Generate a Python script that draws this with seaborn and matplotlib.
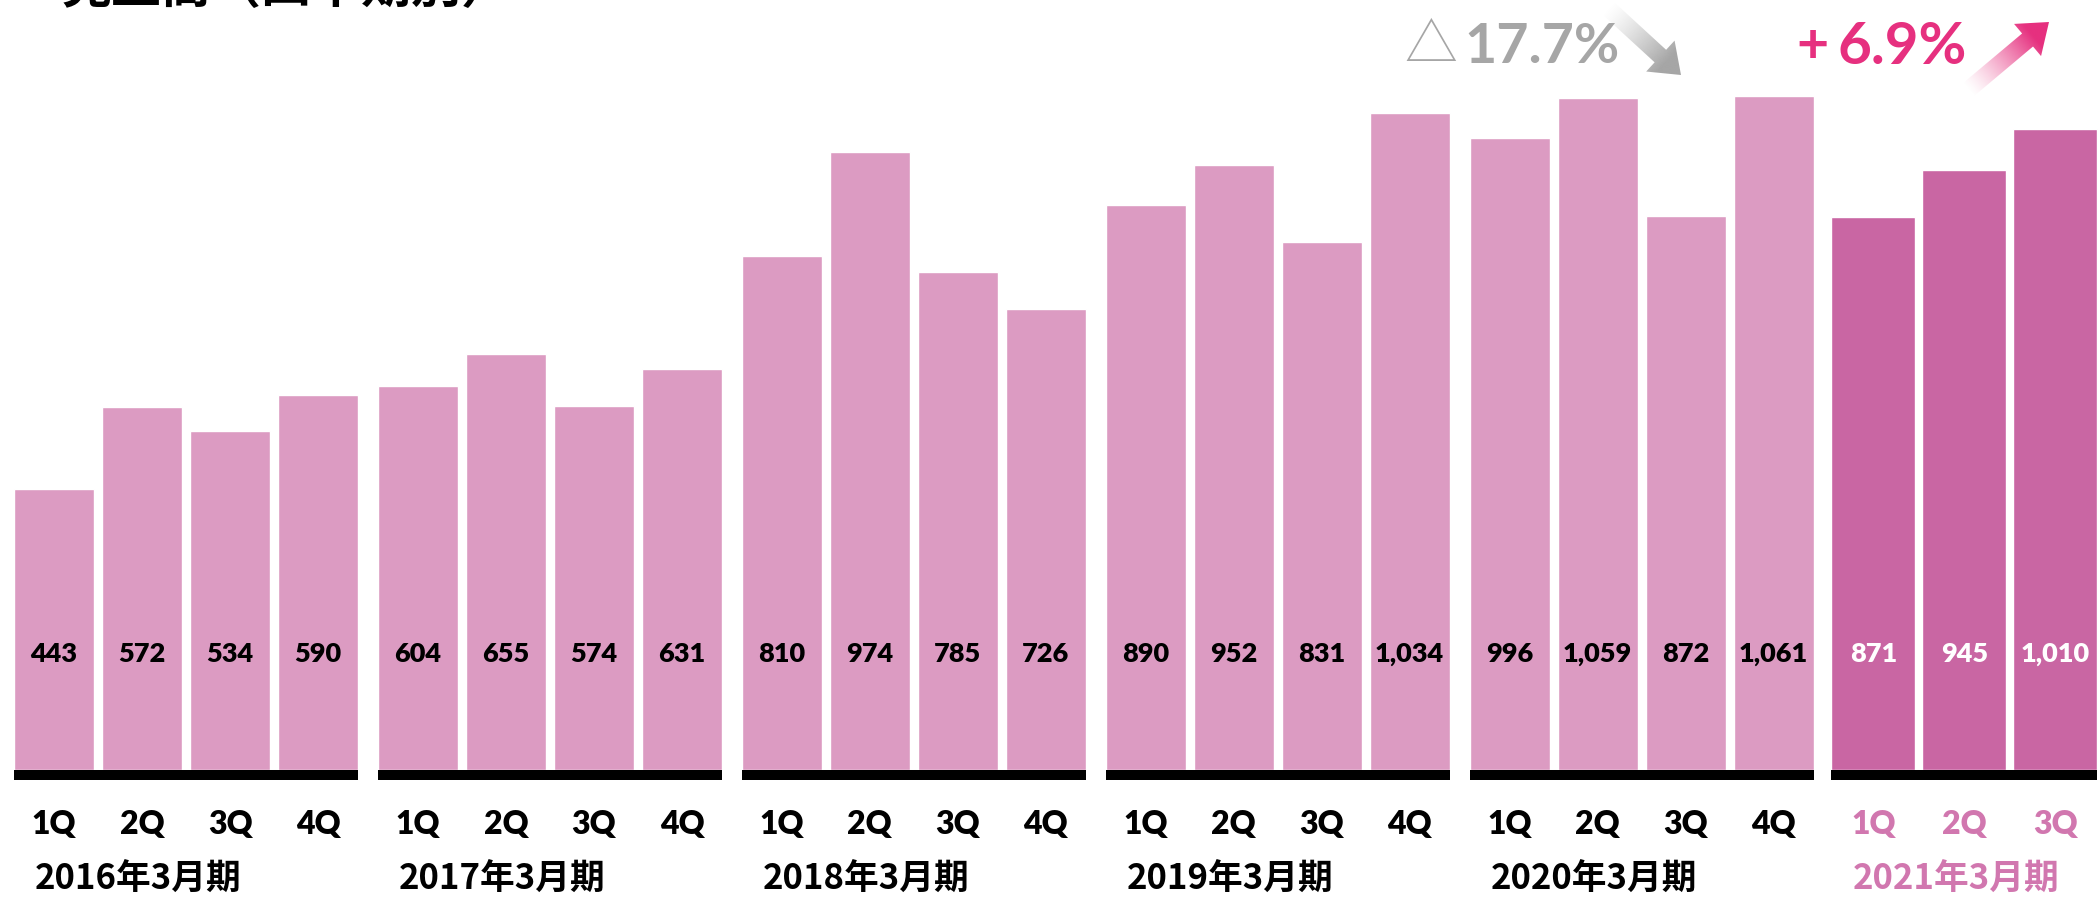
import numpy as np
import pandas as pd
import matplotlib
matplotlib.use("Agg")
import matplotlib.pyplot as plt
import seaborn as sns
from matplotlib.patches import FancyArrow, Rectangle
from matplotlib.colors import to_rgb

# ---------------- data ----------------
fiscal_years = ["2016年3月期", "2017年3月期", "2018年3月期",
                "2019年3月期", "2020年3月期", "2021年3月期"]
quarters = ["1Q", "2Q", "3Q", "4Q"]
sales_fy2016 = [443, 572, 534, 590]
sales_fy2017 = [604, 655, 574, 631]
sales_fy2018 = [810, 974, 785, 726]
sales_fy2019 = [890, 952, 831, 1034]
sales_fy2020 = [996, 1059, 872, 1061]
sales_fy2021 = [871, 945, 1010]
title_text = "売上高（四半期別）"
change_prev_sign = "△"
change_prev_value = "17.7%"
change_curr_sign = "+"
change_curr_value = "6.9%"

# ---------------- style ----------------
PAST = "#DC9BC2"
CURR = "#C966A3"
CURR_TEXT = "#D177AF"
GRAY = "#A6A6A6"
PINK = "#E6307F"

sns.set_theme(style="white")
plt.rcParams["font.family"] = ["Lato", "Noto Sans CJK JP", "DejaVu Sans"]

GROUP_PITCH = 4.135
CURR_PITCH = 1.034
PAST_WIDTH = 0.91
CURR_WIDTH = 0.955

all_sales = [sales_fy2016, sales_fy2017, sales_fy2018, sales_fy2019,
             sales_fy2020, sales_fy2021]
rows = []
for g, (fy, vals) in enumerate(zip(fiscal_years, all_sales)):
    current = (g == len(fiscal_years) - 1)
    for q, v in enumerate(vals):
        pos = g * GROUP_PITCH + q * (CURR_PITCH if current else 1.0)
        rows.append(dict(fy=fy, quarter=quarters[q], value=v, pos=pos,
                         current=current, group=g))
df = pd.DataFrame(rows)
df_past = df[~df.current]
df_curr = df[df.current]

fig = plt.figure(figsize=(20.98, 8.98), dpi=100)
ax = fig.add_axes([0, 0, 1, 1])

sns.barplot(data=df_past, x="pos", y="value", native_scale=True,
            width=PAST_WIDTH, color=PAST, saturation=1, errorbar=None,
            ax=ax, zorder=2)
sns.barplot(data=df_curr, x="pos", y="value", native_scale=True,
            width=CURR_WIDTH / CURR_PITCH, color=CURR, saturation=1,
            errorbar=None, ax=ax, zorder=2)

ax.set_xlim(-0.614, 23.227)
ax.set_ylim(-201.6, 1212.6)
ax.axis("off")

VAL_Y = 183
Q_Y = -86
FY_Y = -173
for g, fy in enumerate(fiscal_years):
    sub = df[df.group == g]
    current = bool(sub.current.iloc[0])
    w = CURR_WIDTH if current else PAST_WIDTH
    left = sub.pos.min() - w / 2
    right = sub.pos.max() + w / 2
    ax.add_patch(Rectangle((left, -16), right - left, 16, color="black",
                           lw=0, zorder=3))
    for _, r in sub.iterrows():
        ax.text(r.pos, VAL_Y, f"{r.value:,}", ha="center", va="center",
                fontsize=19.5, fontweight="heavy",
                color="white" if current else "black", zorder=4)
        ax.text(r.pos, Q_Y, r.quarter, ha="center", va="center",
                fontsize=23, fontweight="heavy",
                color=CURR_TEXT if current else "black")
    ax.text(left + 0.24, FY_Y, fy, ha="left", va="center", fontsize=25,
            fontweight="bold", family=["Noto Sans CJK JP"],
            color=CURR_TEXT if current else "black")

# title (cut at the top edge, as in the reference)
fig.text(62 / 2098, 1 - 3 / 898, title_text, ha="left", va="baseline",
         fontsize=36, fontweight="bold", family=["Noto Sans CJK JP"],
         color="black")

# overlay in pixel coords for annotations
ov = fig.add_axes([0, 0, 1, 1], zorder=5)
ov.set_xlim(0, 2098)
ov.set_ylim(898, 0)
ov.axis("off")
ov.patch.set_alpha(0)

ov.text(1431, 47, change_prev_sign, ha="center", va="center", fontsize=38,
        family=["Noto Sans CJK JP"], fontweight="light", color=GRAY)
ov.text(1464, 47, change_prev_value, ha="left", va="center", fontsize=40,
        fontweight="bold", color=GRAY)
ov.text(1812, 47, change_curr_sign, ha="center", va="center", fontsize=40,
        fontweight="bold", color=PINK)
ov.text(1838, 47, change_curr_value, ha="left", va="center", fontsize=42,
        fontweight="bold", color=PINK)


def gradient_arrow(axx, x0, y0, x1, y1, color, width, hw, hl, power=1.3):
    dx, dy = x1 - x0, y1 - y0
    arr = FancyArrow(x0, y0, dx, dy, width=width, head_width=hw,
                     head_length=hl, length_includes_head=True,
                     facecolor="none", edgecolor="none")
    axx.add_patch(arr)
    pad = hw
    xmin, xmax = min(x0, x1) - pad, max(x0, x1) + pad
    ymin, ymax = min(y0, y1) - pad, max(y0, y1) + pad
    xs = np.linspace(xmin, xmax, 300)
    ys = np.linspace(ymin, ymax, 300)
    X, Y = np.meshgrid(xs, ys)
    t = ((X - x0) * dx + (Y - y0) * dy) / (dx * dx + dy * dy)
    t = np.clip(t, 0, 1)
    img = np.zeros((len(ys), len(xs), 4))
    img[..., :3] = to_rgb(color)
    img[..., 3] = np.clip(t * 1.25, 0, 1) ** power
    im = axx.imshow(img, extent=(xmin, xmax, ymax, ymin), origin="upper",
                    aspect="auto", interpolation="bilinear", zorder=6)
    im.set_clip_path(arr)


gradient_arrow(ov, 1608, 8, 1681, 75, GRAY, 17, 42, 28)
gradient_arrow(ov, 1968, 90, 2049, 22, PINK, 17, 42, 28)
ov.set_xlim(0, 2098)
ov.set_ylim(898, 0)

fig.savefig("out.png", dpi=100)
